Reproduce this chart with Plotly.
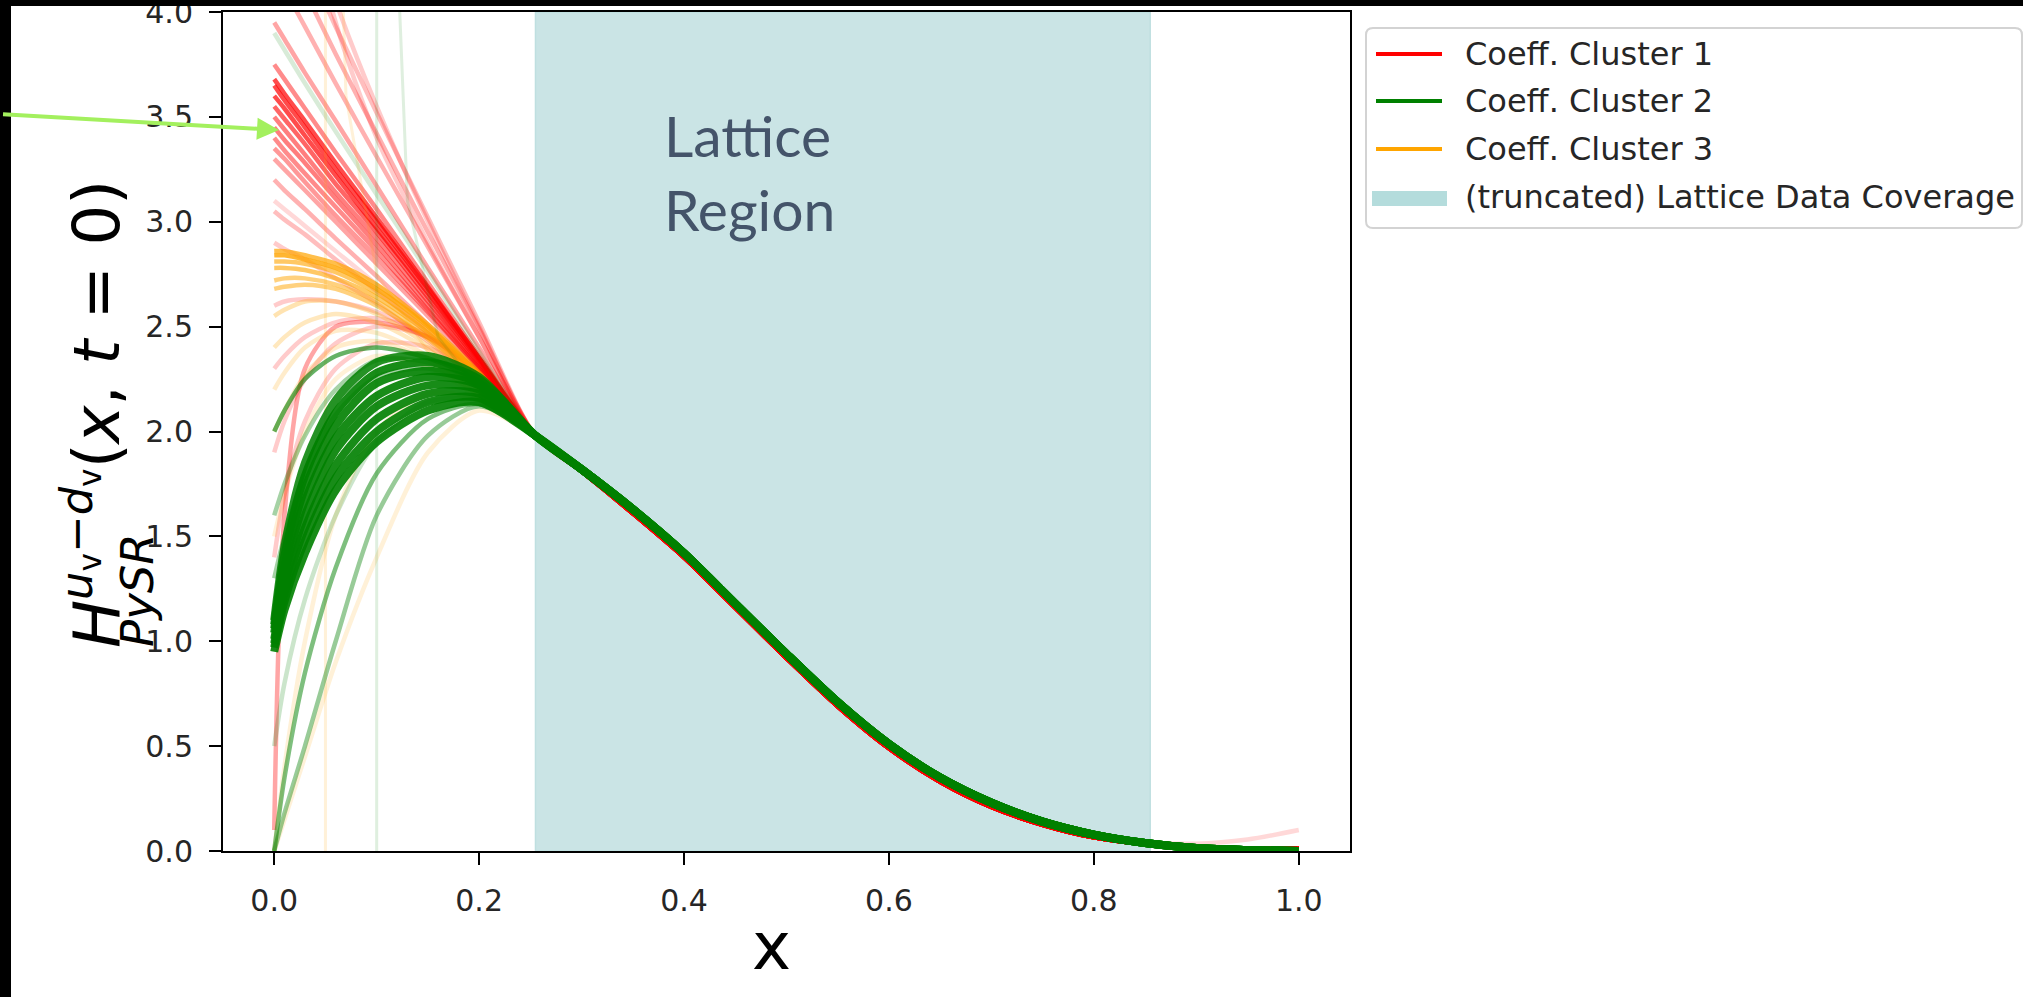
import plotly.graph_objects as go

# ---------------------------------------------------------------- data ----
# x positions: the low-x part where the three clusters differ, and the
# common high-x part where all curves converge
X_HEAD = [0.0, 0.01, 0.03, 0.06, 0.1, 0.15, 0.2]
X_TAIL = [0.255, 0.3, 0.35, 0.4, 0.45, 0.5, 0.55, 0.6, 0.65, 0.7, 0.75, 0.8,
          0.85, 0.9, 0.95, 1.0]

TAIL_C1 = [1.98, 1.81, 1.61, 1.40, 1.16, 0.92, 0.69, 0.49, 0.33, 0.21, 0.125,
           0.065, 0.033, 0.018, 0.013, 0.012]
TAIL_C1_UP = [1.98, 1.81, 1.61, 1.40, 1.16, 0.92, 0.69, 0.49, 0.33, 0.21,
              0.125, 0.07, 0.042, 0.035, 0.055, 0.1]
TAIL_C2 = [1.98, 1.82, 1.63, 1.42, 1.18, 0.94, 0.71, 0.51, 0.35, 0.23, 0.14,
           0.078, 0.038, 0.014, 0.004, 0.0]
TAIL_C3 = [1.98, 1.82, 1.63, 1.42, 1.18, 0.94, 0.71, 0.51, 0.35, 0.23, 0.14,
           0.077, 0.036, 0.013, 0.004, 0.0]

# Coeff. Cluster 1 (low-x values of each member curve)
C1_HEADS = [
    [5.5, 5.2, 4.6, 3.95, 3.4, 2.9, 2.45],
    [5.0, 4.85, 4.5, 4.05, 3.55, 3.0, 2.5],
    [4.6, 4.48, 4.25, 3.93, 3.52, 3.02, 2.52],
    [4.4, 4.3, 4.1, 3.8, 3.42, 2.95, 2.49],
    [4.2, 4.11, 3.93, 3.66, 3.31, 2.88, 2.45],
    [3.95, 3.87, 3.71, 3.48, 3.17, 2.78, 2.40],
    [3.75, 3.68, 3.54, 3.33, 3.06, 2.71, 2.36],
    [3.68, 3.61, 3.48, 3.28, 3.02, 2.69, 2.35],
    [3.65, 3.58, 3.45, 3.25, 3.0, 2.68, 2.35],
    [3.6, 3.54, 3.41, 3.22, 2.97, 2.66, 2.34],
    [3.55, 3.49, 3.37, 3.18, 2.95, 2.64, 2.33],
    [3.5, 3.44, 3.32, 3.14, 2.92, 2.62, 2.32],
    [3.45, 3.39, 3.28, 3.11, 2.89, 2.6, 2.31],
    [3.4, 3.34, 3.23, 3.07, 2.86, 2.58, 2.30],
    [3.35, 3.3, 3.19, 3.03, 2.83, 2.57, 2.3],
    [3.3, 3.25, 3.15, 3.0, 2.8, 2.55, 2.29],
    [3.2, 3.15, 3.06, 2.92, 2.74, 2.51, 2.27],
    [3.05, 3.01, 2.94, 2.82, 2.67, 2.47, 2.25],
    [2.9, 2.87, 2.82, 2.73, 2.61, 2.43, 2.24],
    [2.6, 2.62, 2.63, 2.62, 2.57, 2.45, 2.26],
    [2.3, 2.36, 2.45, 2.52, 2.54, 2.46, 2.28],
    [1.9, 2.05, 2.25, 2.42, 2.5, 2.45, 2.27],
    [1.4, 1.7, 2.05, 2.3, 2.42, 2.4, 2.25],
    [0.1, 1.6, 2.3, 2.5, 2.52, 2.45, 2.28],
]
C1_UP_HEAD = [3.1, 3.06, 2.98, 2.86, 2.7, 2.49, 2.26]

# Coeff. Cluster 2
C2_HEADS = [
    [0.95, 1.15, 1.42, 1.72, 1.95, 2.10, 2.14],
    [0.97, 1.19, 1.48, 1.78, 2.00, 2.14, 2.16],
    [0.99, 1.23, 1.54, 1.84, 2.06, 2.18, 2.18],
    [1.01, 1.27, 1.60, 1.91, 2.12, 2.22, 2.20],
    [1.04, 1.32, 1.67, 1.97, 2.17, 2.26, 2.22],
    [1.06, 1.36, 1.73, 2.03, 2.23, 2.29, 2.23],
    [1.08, 1.41, 1.79, 2.09, 2.28, 2.33, 2.25],
    [1.1, 1.45, 1.85, 2.15, 2.33, 2.36, 2.26],
    [2.0, 2.1, 2.25, 2.36, 2.4, 2.35, 2.24],
    [1.6, 1.75, 1.98, 2.2, 2.34, 2.33, 2.23],
    [1.3, 1.5, 1.8, 2.08, 2.26, 2.3, 2.22],
    [0.0, 0.35, 0.85, 1.35, 1.8, 2.06, 2.13],
    [0.0, 0.18, 0.5, 1.0, 1.6, 1.98, 2.12],
    [0.5, 0.8, 1.2, 1.6, 1.95, 2.14, 2.15],
    [3.9, 3.82, 3.66, 3.43, 3.13, 2.76, 2.38],
]
# Coeff. Cluster 3
C3_HEADS = [
    [2.86, 2.86, 2.84, 2.8, 2.7, 2.51, 2.28],
    [2.84, 2.84, 2.82, 2.78, 2.68, 2.5, 2.27],
    [2.81, 2.81, 2.8, 2.76, 2.66, 2.48, 2.26],
    [2.78, 2.78, 2.77, 2.73, 2.64, 2.47, 2.25],
    [2.72, 2.73, 2.73, 2.7, 2.62, 2.45, 2.24],
    [2.68, 2.69, 2.7, 2.68, 2.6, 2.44, 2.23],
    [2.55, 2.58, 2.62, 2.62, 2.56, 2.41, 2.21],
    [2.4, 2.45, 2.52, 2.56, 2.52, 2.39, 2.2],
    [2.2, 2.28, 2.4, 2.48, 2.47, 2.36, 2.18],
    [2.0, 2.1, 2.27, 2.4, 2.43, 2.34, 2.17],
    [1.5, 1.7, 2.0, 2.25, 2.36, 2.31, 2.16],
    [0.0, 0.4, 1.0, 1.6, 2.0, 2.18, 2.15],
    [0.0, 0.15, 0.45, 0.9, 1.4, 1.9, 2.1],
]

# two fits with a pole inside the plotted range
POLE_C3_X = [0.0, 0.03, 0.045, 0.049, 0.0498, 0.0502, 0.051, 0.055, 0.07, 0.1, 0.15, 0.2]
POLE_C3_Y = [-0.3, -0.9, -3.0, -12.0, -40.0, 40.0, 12.0, 6.0, 3.6, 2.75, 2.38, 2.2]
POLE_C2_X = [0.0, 0.05, 0.09, 0.098, 0.0998, 0.1002, 0.102, 0.11, 0.13, 0.16, 0.2]
POLE_C2_Y = [-0.2, -0.8, -3.0, -12.0, -40.0, 40.0, 12.0, 5.5, 3.1, 2.45, 2.2]

LATTICE_X = [0.255, 0.855]

X_TICKS = [0.0, 0.2, 0.4, 0.6, 0.8, 1.0]
Y_TICKS = [0.0, 0.5, 1.0, 1.5, 2.0, 2.5, 3.0, 3.5, 4.0]

LEGEND_LABELS = ["Coeff. Cluster 1", "Coeff. Cluster 2", "Coeff. Cluster 3",
                 "(truncated) Lattice Data Coverage"]

# --------------------------------------------------------------- style ----
RED, GREEN, ORANGE = "#FF0000", "#008000", "#FFA500"
SPAN_FILL, SPAN_PATCH = "#CAE4E5", "#B4DCDC"
C1_ALPHA = [0.2, 0.2, 0.25, 0.3, 0.3, 0.35, 0.45, 0.7, 0.7, 0.7, 0.6, 0.5,
            0.5, 0.45, 0.4, 0.35, 0.3, 0.25, 0.2, 0.2, 0.2, 0.2, 0.2, 0.35]
C2_ALPHA = [0.9, 0.9, 0.9, 0.9, 0.9, 0.9, 0.9, 0.85,
            0.6, 0.35, 0.35, 0.5, 0.4, 0.2, 0.15]
C2_WIDTH = [8, 8, 8, 8, 8, 8, 8, 8, 4.5, 4.5, 4.5, 4.5, 4.5, 4.5, 4.5]
C3_ALPHA = [0.7, 0.8, 0.6, 0.6, 0.5, 0.5, 0.3, 0.25, 0.2, 0.2, 0.15, 0.15, 0.15]

W, H = 2023, 997
ML, MR, MT, MB = 223, 673, 12, 146
PW, PH = W - ML - MR, H - MT - MB


def px(xp):
    """page pixel column -> paper x"""
    return (xp - ML) / PW


def py(yp):
    """page pixel row -> paper y"""
    return (H - MB - yp) / PH


fig = go.Figure()


def add_curve(x, y, color, alpha, width=4.5, shape="spline"):
    fig.add_trace(go.Scatter(
        x=x, y=y, mode="lines", opacity=alpha, showlegend=False,
        hoverinfo="skip",
        line=dict(color=color, width=width, shape=shape, smoothing=0.8)))


# cluster 1
for head, a in zip(C1_HEADS, C1_ALPHA):
    add_curve(X_HEAD + X_TAIL, head + TAIL_C1, RED, a)
add_curve(X_HEAD + X_TAIL, C1_UP_HEAD + TAIL_C1_UP, RED, 0.15)
# cluster 3
for head, a in zip(C3_HEADS, C3_ALPHA):
    add_curve(X_HEAD + X_TAIL, head + TAIL_C3, ORANGE, a)
add_curve(POLE_C3_X + X_TAIL, POLE_C3_Y + TAIL_C3, ORANGE, 0.15, 3, "linear")
# cluster 2
for head, a, w in zip(C2_HEADS, C2_ALPHA, C2_WIDTH):
    add_curve(X_HEAD + X_TAIL, head + TAIL_C2, GREEN, a, w)
add_curve(POLE_C2_X + X_TAIL, POLE_C2_Y + TAIL_C2, GREEN, 0.12, 3, "linear")

shapes = [
    # lattice data coverage band
    dict(type="rect", xref="x", yref="y domain", x0=LATTICE_X[0], x1=LATTICE_X[1],
         y0=0, y1=1, fillcolor=SPAN_FILL, line=dict(color="#BFDFE0", width=1.5),
         layer="below"),
    # dark frame along the top and left edges of the page
    dict(type="rect", xref="paper", yref="paper", x0=px(-20), x1=px(W + 20),
         y0=py(6), y1=py(-20), fillcolor="black", line=dict(width=0), layer="above"),
    dict(type="rect", xref="paper", yref="paper", x0=px(-20), x1=px(11),
         y0=py(H + 20), y1=py(-20), fillcolor="black", line=dict(width=0), layer="above"),
]

# legend frame with rounded corners
lx0, lx1, ly0, ly1 = px(1366), px(2022), py(228), py(28)
rx, ry = 7 / PW, 7 / PH
frame = (f"M{lx0 + rx},{ly0} L{lx1 - rx},{ly0} Q{lx1},{ly0} {lx1},{ly0 + ry} "
         f"L{lx1},{ly1 - ry} Q{lx1},{ly1} {lx1 - rx},{ly1} L{lx0 + rx},{ly1} "
         f"Q{lx0},{ly1} {lx0},{ly1 - ry} L{lx0},{ly0 + ry} Q{lx0},{ly0} {lx0 + rx},{ly0} Z")
shapes.append(dict(type="path", xref="paper", yref="paper", path=frame,
                   fillcolor="white", line=dict(color="#D3D3D3", width=2), layer="above"))

legend_rows = [54, 101, 149, 197]
for row, col in zip(legend_rows[:3], [RED, GREEN, ORANGE]):
    shapes.append(dict(type="line", xref="paper", yref="paper", x0=px(1376), x1=px(1442),
                       y0=py(row), y1=py(row), line=dict(color=col, width=4), layer="above"))
shapes.append(dict(type="rect", xref="paper", yref="paper", x0=px(1372), x1=px(1447),
                   y0=py(206), y1=py(191), fillcolor=SPAN_PATCH, line=dict(width=0),
                   layer="above"))

annotations = []
for row, label in zip(legend_rows, LEGEND_LABELS):
    annotations.append(dict(xref="paper", yref="paper", x=px(1463), y=py(row),
                            xanchor="left", yanchor="middle", showarrow=False,
                            text=label, font=dict(family="DejaVu Sans", size=32,
                                                  color="#262626")))

annotations += [
    dict(xref="paper", yref="paper", x=px(662), y=py(172), xanchor="left",
         yanchor="middle", showarrow=False, align="left", text="Lattice<br>Region",
         font=dict(family="Lato", size=57, color="#44546A")),
    dict(xref="paper", yref="paper", x=px(771), y=py(946), xanchor="center",
         yanchor="middle", showarrow=False,
         text="x", font=dict(family="DejaVu Sans", size=66, color="black")),
    dict(xref="paper", yref="paper", x=px(92), y=py(414), xanchor="center",
         yanchor="middle", showarrow=False, textangle=-90,
         text="<i>H</i><sup><i>u</i><sub>v</sub>−<i>d</i><sub>v</sub></sup>(<i>x</i>, <i>t</i> = 0)",
         font=dict(family="DejaVu Sans", size=64, color="black")),
    dict(xref="paper", yref="paper", x=px(137), y=py(590), xanchor="center",
         yanchor="middle", showarrow=False, textangle=-90, text="<i>PySR</i>",
         font=dict(family="DejaVu Sans", size=45, color="black")),
    # pointer arrow
    dict(xref="paper", yref="paper", x=px(279), y=py(130), axref="pixel",
         ayref="pixel", ax=-290, ay=-16, text=" ", showarrow=True, arrowhead=2,
         arrowsize=1.1, arrowwidth=4, arrowcolor="#A3F05E"),
]

axis_common = dict(
    showline=True, linecolor="black", linewidth=2, mirror=True,
    ticks="outside", ticklen=12, tickwidth=2, tickcolor="black",
    showgrid=False, zeroline=False, ticklabelstandoff=10,
    ticklabeloverflow="allow", automargin=False,
    tickfont=dict(family="DejaVu Sans", size=30, color="#262626"),
)

fig.update_layout(
    width=W, height=H,
    margin=dict(l=ML, r=MR, t=MT, b=MB, pad=0, autoexpand=False),
    paper_bgcolor="white", plot_bgcolor="white",
    showlegend=False,
    xaxis=dict(range=[-0.05, 1.05], tickvals=X_TICKS,
               ticktext=[f"{v:.1f}" for v in X_TICKS], **axis_common),
    yaxis=dict(range=[0.0, 4.0], tickvals=Y_TICKS,
               ticktext=[f"{v:.1f}" for v in Y_TICKS], **axis_common),
    shapes=shapes,
    annotations=annotations,
)

fig.write_html("out.html")
